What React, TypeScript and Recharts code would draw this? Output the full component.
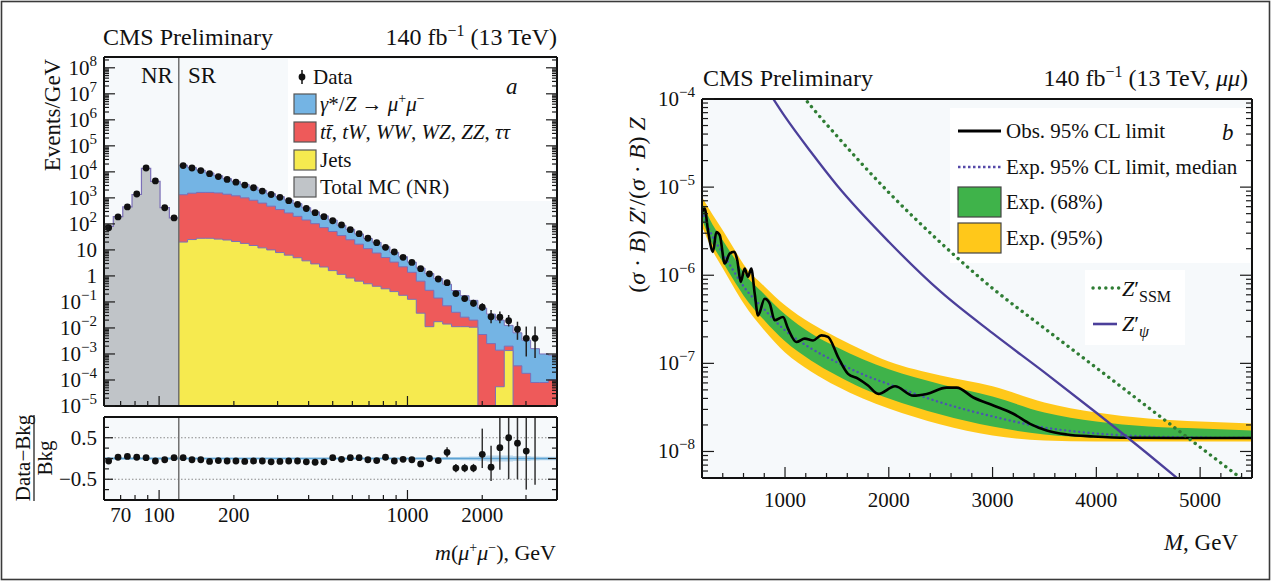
import React from "react";
import { ComposedChart, Area, Line, Scatter, XAxis, YAxis, ReferenceLine, ErrorBar } from "recharts";

const FONT = "'Liberation Serif', 'Times New Roman', serif";
const FRAME = { stroke: "#111", strokeWidth: 2 };
const PLOT_BG = "#f6f9fb";
const BLUE = "#74b4e4";
const RED = "#ee5a5a";
const YELLOW = "#f6ea4f";
const GRAY = "#c0c4c8";
const OUTLINE = "#7b6fb8";
const BAND95 = "#ffc81a";
const BAND68 = "#3fb34a";
const PSI = "#4b3f9a";
const SSM = "#2f7d34";
const MEDIAN = "#4b55b0";

// ---------- panel a: m(mu mu) spectrum ----------
const nrEdges = [60, 65.4, 71.4, 77.8, 84.9, 92.5, 100.9, 110.0, 120];
const nrData = [71, 186, 447, 1410, 14100, 4470, 417, 170];
const nrMC = [80, 190, 450, 1350, 13500, 4300, 420, 170];

const srEdges = [
  120, 130.2, 141.3, 153.3, 166.3, 180.4, 195.7, 212.4, 230.4, 250, 271.2, 294.3, 319.3, 346.4, 375.9,
  407.8, 442.5, 480.1, 520.9, 565.1, 613.2, 665.3, 721.8, 783.1, 849.7, 921.9, 1000, 1085, 1177, 1277,
  1386, 1504, 1632, 1770, 1921, 2084, 2261, 2453, 2662, 2888, 3133, 3399, 3688, 4000,
];
// stacked tops: total (DY on top), jets + ttbar etc, jets
const srTotal = [
  18200, 14800, 11700, 9100, 7100, 5500, 4300, 3300, 2600, 1950, 1450, 1120, 830, 600, 420, 290, 204, 141,
  89, 62, 41, 27.5, 19.5, 13.2, 8.1, 5.5, 3.4, 2.0, 1.23, 0.79, 0.48, 0.275, 0.174, 0.115, 0.058, 0.034,
  0.02, 0.0126, 0.0065, 0.0034, 0.0016, 0.001, 0.0009,
];
const srTop = [
  1320, 1510, 1620, 1620, 1550, 1380, 1200, 1000, 810, 630, 480, 355, 263, 195, 141, 102, 72, 51, 35.5,
  24.5, 16.6, 11.2, 7.6, 5.1, 3.4, 2.24, 1.38, 0.63, 0.28, 0.141, 0.071, 0.04, 0.026, 0.02, 0.0056,
  0.0025, 0.0014, 0.002, 0.00035, 0.00018, 0.00008, 0.00008, 0.0001,
];
const srJets = [
  20, 25, 28, 28, 26, 24, 21, 17.8, 14.8, 12, 10, 7.9, 6.3, 5, 3.8, 2.9, 2.2, 1.6, 1.15, 0.83, 0.63, 0.5,
  0.4, 0.32, 0.25, 0.18, 0.126, 0.037, 0.0112, 0.0174, 0.0141, 0.0112, 0.0112, 0.0107, 0, 0, 0.000055,
  0.00135, 0, 0, 0, 0, 0,
];
const srData = [
  17400, 14100, 11200, 8500, 6600, 5100, 4000, 3100, 2450, 1820, 1350, 1050, 780, 560, 390, 270, 190, 132,
  91, 60, 42, 28, 19, 12.6, 8.3, 5.2, 3.3, 1.9, 1.2, 0.76, 0.55, 0.21, 0.135, 0.089, 0.063, 0.027, 0.026,
  0.019, 0.0089, 0.004, 0.004,
];
const dataErrStart = 31;
const srDataErrTail = [
  [0.043, 0.054], [0.028, 0.035], [0.023, 0.031], [0.018, 0.026], [0.012, 0.022],
  [0.011, 0.017], [0.0076, 0.0125], [0.0054, 0.0085], [0.0032, 0.0073], [0.0033, 0.0073],
];

const nrRatio = [-0.06, 0.03, 0.05, 0.03, 0.02, -0.06, -0.03, 0.02];
const srRatio = [
  0.02, -0.03, -0.03, -0.07, -0.05, -0.06, -0.06, -0.07, -0.06, -0.06, -0.08, -0.07, -0.06, -0.06, -0.08,
  -0.09, -0.08, 0.02, -0.02, 0.02, 0.02, -0.03, -0.05, 0.03, -0.06, -0.02, -0.03, -0.13, 0.0, -0.05,
  0.15, -0.23, -0.23, -0.23, 0.1, -0.21, 0.26, 0.5, 0.37, 0.18, 1.0,
];
const ratioErrStart = 30;
const srRatioErrTail = [
  [0.12, 0.12], [0.1, 0.1], [0.1, 0.1], [0.1, 0.1], [0.33, 0.62], [0.33, 0.52],
  [0.53, 0.74], [1.0, 0.5], [0.87, 0.63], [0.93, 0.82], [1.63, 0],
];
const ratioOffScaleBin = 40; // marker above the panel, only its bar shows
const nrBkgUnc = [0.03, 0.03, 0.03, 0.03, 0.03, 0.03, 0.03, 0.03];
const srBkgUnc = [
  0.025, 0.025, 0.025, 0.025, 0.025, 0.025, 0.025, 0.025, 0.025, 0.025, 0.025, 0.025, 0.025, 0.025, 0.025,
  0.025, 0.025, 0.025, 0.025, 0.025, 0.025, 0.025, 0.025, 0.025, 0.025, 0.025, 0.025, 0.03, 0.03, 0.03,
  0.035, 0.035, 0.04, 0.05, 0.06, 0.07, 0.07, 0.07, 0.06, 0.06, 0.05, 0.04, 0.04,
];

const massTicks = [70, 80, 90, 100, 200, 300, 400, 500, 600, 700, 800, 900, 1000, 2000, 3000];
const massLabels = [70, 100, 200, 1000, 2000];
const ratioTicks = [-0.75, -0.5, -0.25, 0, 0.25, 0.5, 0.75];

// ---------- panel b: limits ----------
const bandMass = [200, 300, 400, 500, 600, 800, 1000, 1250, 1500, 1750, 2000, 2500, 3000, 3500, 4000, 4500, 5000, 5500];
const exp95Hi = [7.7e-6, 4.93e-6, 3.24e-6, 2.08e-6, 1.33e-6, 7.5e-7, 4.56e-7, 2.85e-7, 1.97e-7, 1.41e-7, 1.05e-7, 7.3e-8, 5.5e-8, 3.6e-8, 2.77e-8, 2.37e-8, 2.19e-8, 2.08e-8];
const exp68Hi = [6.6e-6, 3.8e-6, 2.5e-6, 1.64e-6, 1.08e-6, 6.1e-7, 3.6e-7, 2.19e-7, 1.52e-7, 1.11e-7, 8.55e-8, 5.8e-8, 4.2e-8, 2.77e-8, 2.19e-8, 1.92e-8, 1.82e-8, 1.73e-8];
const expMedian = [5.3e-6, 2.77e-6, 1.78e-6, 1.14e-6, 7.5e-7, 4.1e-7, 2.37e-7, 1.48e-7, 1.03e-7, 7.5e-8, 5.8e-8, 3.6e-8, 2.5e-8, 1.87e-8, 1.6e-8, 1.48e-8, 1.44e-8, 1.43e-8];
const exp68Lo = [4.3e-6, 2.25e-6, 1.41e-6, 9.0e-7, 5.9e-7, 3.08e-7, 1.78e-7, 1.08e-7, 7.3e-8, 5.2e-8, 4.0e-8, 2.63e-8, 1.92e-8, 1.56e-8, 1.44e-8, 1.41e-8, 1.41e-8, 1.41e-8];
const exp95Lo = [3.6e-6, 1.92e-6, 1.2e-6, 7.5e-7, 4.8e-7, 2.37e-7, 1.33e-7, 8.1e-8, 5.5e-8, 4.0e-8, 3.08e-8, 2.03e-8, 1.52e-8, 1.33e-8, 1.3e-8, 1.3e-8, 1.3e-8, 1.3e-8];

const obsMass = [
  200, 226, 258, 306, 338, 371, 419, 467, 508, 540, 573, 611, 643, 675, 708, 740, 804, 852, 900, 981, 1029,
  1109, 1190, 1270, 1350, 1414, 1511, 1607, 1703, 1800, 1900, 2060, 2236, 2365, 2558, 2654, 2815, 3008,
  3200, 3361, 3522, 3715, 3970, 4300, 5500,
];
const obsLimit = [
  5.2e-6, 5.7e-6, 3.2e-6, 1.84e-6, 3.1e-6, 2.85e-6, 1.36e-6, 1.76e-6, 1.84e-6, 1.48e-6, 8.4e-7, 1.19e-6,
  9.6e-7, 1.19e-6, 6.2e-7, 3.5e-7, 5.4e-7, 4.8e-7, 3.08e-7, 3.36e-7, 2.48e-7, 1.75e-7, 1.91e-7, 1.82e-7,
  2.08e-7, 2.0e-7, 1.18e-7, 7.6e-8, 6.7e-8, 5.6e-8, 4.5e-8, 5.5e-8, 4.3e-8, 4.5e-8, 5.3e-8, 5.3e-8, 4.1e-8,
  3.33e-8, 2.68e-8, 2.06e-8, 1.73e-8, 1.56e-8, 1.48e-8, 1.43e-8, 1.42e-8,
];
const psiMass = [850, 1000, 1250, 1500, 2000, 2500, 3000, 3500, 4000, 4500, 4900];
const psiXsec = [1.17e-4, 6.3e-5, 2.5e-5, 1.05e-5, 2.4e-6, 6.5e-7, 2.2e-7, 7.9e-8, 2.75e-8, 9.3e-9, 3.8e-9];
const ssmMass = [1100, 1250, 1500, 2000, 2500, 3000, 3500, 4000, 4500, 5000, 5500];
const ssmXsec = [1.38e-4, 8.3e-5, 3.8e-5, 8.7e-6, 2.34e-6, 7.1e-7, 2.5e-7, 8.9e-8, 3.16e-8, 1.12e-8, 4.0e-9];

const mTicks = [400, 600, 800, 1000, 1200, 1400, 1600, 1800, 2000, 2200, 2400, 2600, 2800, 3000, 3200, 3400, 3600, 3800, 4000, 4200, 4400, 4600, 4800, 5000, 5200, 5400];

// ---------- tables ----------
const center = (edges: number[], i: number) => Math.sqrt(edges[i] * edges[i + 1]);
const floorZero = (v: number) => (v > 0 ? v : 1e-9);

const mainRows = [
  ...nrMC.map((v, i) => ({ x: nrEdges[i], nr: v })),
  ...srEdges.map((x, i) => {
    const j = Math.min(i, srTotal.length - 1);
    return { x, nr: i === 0 ? nrMC[nrMC.length - 1] : undefined, total: srTotal[j], top: srTop[j], jets: floorZero(srJets[j]) };
  }),
];
const mainPts = [
  ...nrData.map((y, i) => ({ x: center(nrEdges, i), y, err: [0, 0] })),
  ...srData.map((y, i) => ({ x: center(srEdges, i), y, err: i >= dataErrStart ? srDataErrTail[i - dataErrStart] : [0, 0] })),
];
const allEdges = [...nrEdges.slice(0, -1), ...srEdges];
const allUnc = [...nrBkgUnc, ...srBkgUnc];
const ratioRows = allEdges.map((x, i) => {
  const u = allUnc[Math.min(i, allUnc.length - 1)];
  return { x, band: [-u, u] };
});
const ratioPts = [
  ...nrRatio.map((y, i) => ({ x: center(nrEdges, i), y, err: [0, 0], hide: false })),
  ...srRatio.map((y, i) => ({
    x: center(srEdges, i),
    y,
    err: i >= ratioErrStart ? srRatioErrTail[i - ratioErrStart] : [0, 0],
    hide: i === ratioOffScaleBin,
  })),
];

const bandRows = bandMass.map((m, i) => ({ m, b95: [exp95Lo[i], exp95Hi[i]], b68: [exp68Lo[i], exp68Hi[i]] }));
const pick = (ms: number[], vs: number[], m: number) => {
  const k = ms.indexOf(m);
  return k >= 0 ? vs[k] : undefined;
};
const allMass = Array.from(new Set([...bandMass, ...obsMass, ...psiMass, ...ssmMass])).sort((a, b) => a - b);
const lineRows = allMass.map((m) => ({
  m,
  median: pick(bandMass, expMedian, m),
  obs: pick(obsMass, obsLimit, m),
  psi: pick(psiMass, psiXsec, m),
  ssm: pick(ssmMass, ssmXsec, m),
}));

// ---------- ticks ----------
const decadeTicks = (lo: number, hi: number) => {
  const out: number[] = [];
  for (let n = Math.floor(Math.log10(lo)); n <= Math.ceil(Math.log10(hi)); n++)
    for (let k = 1; k <= 9; k++) {
      const v = k * Math.pow(10, n);
      if (v >= lo * 0.999 && v <= hi * 1.001) out.push(v);
    }
  return out;
};
const isDecade = (v: number) => Math.abs(Math.log10(v) - Math.round(Math.log10(v))) < 1e-6;
const minus = (n: number) => (n < 0 ? "\u2212" + -n : String(n));
const powLabel = (v: number, plain: boolean) => {
  if (!isDecade(v)) return null;
  const n = Math.round(Math.log10(v));
  if (plain && n === 0) return "1";
  if (plain && n === 1) return "10";
  return (
    <>
      10<tspan dy={-9} fontSize={15}>{minus(n)}</tspan>
    </>
  );
};

type Side = "left" | "right" | "top" | "bottom";
const makeTick =
  (side: Side, major: (v: number) => boolean, lens: [number, number], label?: (v: number) => React.ReactNode, dy = 0) =>
  (p: any) => {
    const { x, y, payload } = p;
    const v = payload.value;
    const L = major(v) ? lens[0] : lens[1];
    let x2 = x;
    let y2 = y;
    if (side === "left") x2 = x + L;
    else if (side === "right") x2 = x - L;
    else if (side === "top") y2 = y + L;
    else y2 = y - L;
    const lab = label ? label(v) : null;
    return (
      <g>
        <line x1={x} y1={y} x2={x2} y2={y2} stroke="#1a1a1a" strokeWidth={1.2} />
        {lab != null &&
          (side === "left" ? (
            <text x={x - 7} y={y + 7} textAnchor="end" fontFamily={FONT} fontSize={21} fill="#111">
              {lab}
            </text>
          ) : (
            <text x={x} y={y + dy} textAnchor="middle" fontFamily={FONT} fontSize={21} fill="#111">
              {lab}
            </text>
          ))}
      </g>
    );
  };

const massMajor = (v: number) => v === 100 || v === 1000;
const massLabel = (v: number) => (massLabels.includes(v) ? String(v) : null);
const ratioMajor = (v: number) => Math.abs(v) === 0.5 || v === 0;
const ratioLabel = (v: number) => (v === 0.5 ? "0.5" : v === -0.5 ? "\u22120.5" : null);
const mMajor = (v: number) => v % 1000 === 0;
const mLabel = (v: number) => (v % 1000 === 0 ? String(v) : null);

const eventTicks = decadeTicks(1e-5, 2.6e8);
const limitTicks = decadeTicks(5e-9, 1e-4);

const dot = (p: any) =>
  p.payload && p.payload.hide ? <g /> : <circle cx={p.cx} cy={p.cy} r={3.4} fill="#111" />;

const axisCommon = { tickSize: 0, tickMargin: 0, tickLine: false, interval: 0 as const, allowDataOverflow: true };

const It = ({ children }: { children: React.ReactNode }) => <tspan fontStyle="italic">{children}</tspan>;

export default function App() {
  // axes on the far sides are 1px thick, margins reduced to keep the plot boxes in place
  const mainMargin = { top: 16, right: 22, bottom: 13, left: 44 };
  const ratioMargin = { top: 11, right: 22, bottom: 74, left: 44 };
  const bandMargin = { top: 39, right: 20, bottom: 42, left: 2 };
  const rMargin = { top: 38, right: 19, bottom: 41, left: 2 };
  return (
    <div style={{ position: "absolute", left: 0, top: 0, width: 1272, height: 583, background: "#fff", overflow: "hidden" }}>
      {/* plot backgrounds */}
      <div style={{ position: "absolute", left: 104, top: 57, width: 453, height: 349, background: PLOT_BG }} />
      <div style={{ position: "absolute", left: 288, top: 59, width: 266, height: 142, background: "#fff" }} />
      <div style={{ position: "absolute", left: 104, top: 417, width: 453, height: 83, background: PLOT_BG }} />
      <div style={{ position: "absolute", left: 702, top: 99, width: 550, height: 379, background: PLOT_BG }} />
      <div style={{ position: "absolute", left: 950, top: 108, width: 300, height: 155, background: "#fff" }} />
      <div style={{ position: "absolute", left: 1085, top: 270, width: 100, height: 75, background: "#fff" }} />

      {/* panel a, main */}
      <div style={{ position: "absolute", left: 0, top: 40 }}>
        <ComposedChart width={580} height={380} data={mainRows} margin={mainMargin}>
          <XAxis dataKey="x" type="number" scale="log" domain={[60, 4000]} ticks={massTicks} height={1} axisLine={FRAME}
            tick={makeTick("bottom", massMajor, [10, 5])} {...axisCommon} />
          <XAxis xAxisId="top" orientation="top" type="number" scale="log" domain={[60, 4000]} ticks={massTicks} height={1}
            axisLine={FRAME} tick={makeTick("top", massMajor, [10, 5])} {...axisCommon} />
          <YAxis type="number" scale="log" domain={[1e-5, 2.6e8]} ticks={eventTicks} width={60} axisLine={FRAME}
            tick={makeTick("left", isDecade, [11, 5], (v) => powLabel(v, true))} {...axisCommon} />
          <YAxis yAxisId="right" orientation="right" type="number" scale="log" domain={[1e-5, 2.6e8]} ticks={eventTicks}
            width={1} axisLine={FRAME} tick={makeTick("right", isDecade, [11, 5])} {...axisCommon} />
          <Area dataKey="total" type="stepAfter" baseValue={1e-5} fill={BLUE} fillOpacity={1} stroke={OUTLINE}
            strokeWidth={1} dot={false} activeDot={false} isAnimationActive={false} />
          <Area dataKey="top" type="stepAfter" baseValue={1e-5} fill={RED} fillOpacity={1} stroke={OUTLINE}
            strokeWidth={1} dot={false} activeDot={false} isAnimationActive={false} />
          <Area dataKey="jets" type="stepAfter" baseValue={1e-5} fill={YELLOW} fillOpacity={1} stroke={OUTLINE}
            strokeWidth={1} dot={false} activeDot={false} isAnimationActive={false} />
          <Area dataKey="nr" type="stepAfter" baseValue={1e-5} fill={GRAY} fillOpacity={1} stroke={OUTLINE}
            strokeWidth={1.2} dot={false} activeDot={false} isAnimationActive={false} />
          <ReferenceLine x={120} stroke="#707070" strokeWidth={1.5} />
          <Scatter data={mainPts} dataKey="y" shape={dot} isAnimationActive={false}>
            <ErrorBar dataKey="err" direction="y" width={0} stroke="#222" strokeWidth={1.5} isAnimationActive={false} />
          </Scatter>
        </ComposedChart>
      </div>

      {/* panel a, ratio */}
      <div style={{ position: "absolute", left: 0, top: 405 }}>
        <ComposedChart width={580} height={170} data={ratioRows} margin={ratioMargin}>
          <XAxis dataKey="x" type="number" scale="log" domain={[60, 4000]} ticks={massTicks} height={1} axisLine={FRAME}
            tick={makeTick("bottom", massMajor, [10, 5], massLabel, 22)} {...axisCommon} />
          <XAxis xAxisId="top" orientation="top" type="number" scale="log" domain={[60, 4000]} ticks={massTicks} height={1}
            axisLine={FRAME} tick={makeTick("top", massMajor, [10, 5])} {...axisCommon} />
          <YAxis type="number" domain={[-1, 1]} ticks={ratioTicks} width={60} axisLine={FRAME}
            tick={makeTick("left", ratioMajor, [9, 5], ratioLabel)} {...axisCommon} />
          <YAxis yAxisId="right" orientation="right" type="number" domain={[-1, 1]} ticks={ratioTicks} width={1}
            axisLine={FRAME} tick={makeTick("right", ratioMajor, [9, 5])} {...axisCommon} />
          <ReferenceLine y={0.5} stroke="#8a8a8a" strokeDasharray="1.5 2" strokeWidth={1} />
          <ReferenceLine y={-0.5} stroke="#8a8a8a" strokeDasharray="1.5 2" strokeWidth={1} />
          <Area dataKey="band" type="stepAfter" fill="#b9d8ee" fillOpacity={1} stroke="none" dot={false}
            activeDot={false} isAnimationActive={false} />
          <ReferenceLine y={0} stroke="#5ea3d3" strokeWidth={1.5} />
          <ReferenceLine x={120} stroke="#707070" strokeWidth={1.5} />
          <Scatter data={ratioPts} dataKey="y" shape={dot} isAnimationActive={false}>
            <ErrorBar dataKey="err" direction="y" width={0} stroke="#333" strokeWidth={1.5} isAnimationActive={false} />
          </Scatter>
        </ComposedChart>
      </div>

      {/* panel b, expected bands */}
      <div style={{ position: "absolute", left: 640, top: 60 }}>
        <ComposedChart width={632} height={460} data={bandRows} margin={bandMargin}>
          <XAxis dataKey="m" type="number" domain={[200, 5500]} allowDataOverflow height={0} tick={false} tickLine={false} axisLine={false} />
          <YAxis type="number" scale="log" domain={[5e-9, 1e-4]} allowDataOverflow width={60} tick={false} tickLine={false} axisLine={false} />
          <Area dataKey="b95" type="monotone" fill={BAND95} fillOpacity={1} stroke="none" dot={false} activeDot={false} isAnimationActive={false} />
          <Area dataKey="b68" type="monotone" fill={BAND68} fillOpacity={1} stroke="none" dot={false} activeDot={false} isAnimationActive={false} />
        </ComposedChart>
      </div>

      {/* panel b, lines and frame */}
      <div style={{ position: "absolute", left: 640, top: 60 }}>
        <ComposedChart width={632} height={460} data={lineRows} margin={rMargin}>
          <XAxis dataKey="m" type="number" domain={[200, 5500]} ticks={mTicks} height={1} axisLine={FRAME}
            tick={makeTick("bottom", mMajor, [11, 5], mLabel, 29)} {...axisCommon} />
          <XAxis xAxisId="top" orientation="top" type="number" domain={[200, 5500]} ticks={mTicks} height={1}
            axisLine={FRAME} tick={makeTick("top", mMajor, [11, 5])} {...axisCommon} />
          <YAxis type="number" scale="log" domain={[5e-9, 1e-4]} ticks={limitTicks} width={60} axisLine={FRAME}
            tick={makeTick("left", isDecade, [12, 6], (v) => powLabel(v, false))} {...axisCommon} />
          <YAxis yAxisId="right" orientation="right" type="number" scale="log" domain={[5e-9, 1e-4]} ticks={limitTicks}
            width={1} axisLine={FRAME} tick={makeTick("right", isDecade, [12, 6])} {...axisCommon} />
          <Line dataKey="median" type="monotone" stroke={MEDIAN} strokeWidth={2.4} strokeDasharray="0.1 4.6"
            strokeLinecap="round" dot={false} activeDot={false} connectNulls isAnimationActive={false} />
          <Line dataKey="obs" type="monotone" stroke="#000" strokeWidth={2.6} dot={false} activeDot={false}
            connectNulls isAnimationActive={false} />
          <Line dataKey="psi" type="monotone" stroke={PSI} strokeWidth={2.3} dot={false} activeDot={false}
            connectNulls isAnimationActive={false} />
          <Line dataKey="ssm" type="monotone" stroke={SSM} strokeWidth={3.4} strokeDasharray="0.1 6.3"
            strokeLinecap="round" dot={false} activeDot={false} connectNulls isAnimationActive={false} />
        </ComposedChart>
      </div>

      {/* texts and legends */}
      <svg width={1272} height={583} style={{ position: "absolute", left: 0, top: 0, pointerEvents: "none" }}
        fontFamily={FONT} fill="#111">
        <rect x={1.5} y={1.5} width={1268} height={578} fill="none" stroke="#3a3a3a" strokeWidth={1.6} />

        {/* panel a titles */}
        <text x={103} y={45} fontSize={24}>CMS Preliminary</text>
        <text x={557} y={45} fontSize={24} textAnchor="end">
          140 fb<tspan dy={-9} fontSize={16}>{"\u22121"}</tspan><tspan dy={9}> (13 TeV)</tspan>
        </text>
        <text x={141} y={83} fontSize={23}>NR</text>
        <text x={188} y={83} fontSize={23}>SR</text>
        <text x={506} y={94} fontSize={23} fontStyle="italic">a</text>

        {/* panel a legend */}
        <line x1={302} y1={70} x2={302} y2={84} stroke="#111" strokeWidth={1.5} />
        <circle cx={302} cy={77} r={3.4} fill="#111" />
        <text x={313} y={84} fontSize={21}>Data</text>
        <rect x={294} y={94} width={22} height={20} fill={BLUE} stroke="#555" strokeWidth={1.2} />
        <text x={320} y={111} fontSize={21}>
          <It>{"\u03b3"}</It>*/<It>Z</It> {"\u2192"} <It>{"\u03bc"}</It>
          <tspan dy={-8} fontSize={14}>+</tspan>
          <tspan dy={8} fontStyle="italic">{"\u03bc"}</tspan>
          <tspan dy={-8} fontSize={14}>{"\u2212"}</tspan>
        </text>
        <rect x={294} y={122} width={22} height={20} fill={RED} stroke="#555" strokeWidth={1.2} />
        <text x={320} y={139} fontSize={21}>
          <It>{"tt\u0304"}</It>, <It>tW</It>, <It>WW</It>, <It>WZ</It>, <It>ZZ</It>, <It>{"\u03c4\u03c4"}</It>
        </text>
        <rect x={294} y={150} width={22} height={20} fill={YELLOW} stroke="#555" strokeWidth={1.2} />
        <text x={320} y={167} fontSize={21}>Jets</text>
        <rect x={294} y={177} width={22} height={20} fill={GRAY} stroke="#555" strokeWidth={1.2} />
        <text x={320} y={194} fontSize={21}>Total MC (NR)</text>

        {/* panel a axis titles */}
        <text transform="translate(60,115) rotate(-90)" textAnchor="middle" fontSize={23}>Events/GeV</text>
        <g transform="translate(34,458) rotate(-90)">
          <text x={0} y={-4} textAnchor="middle" fontSize={21}>Data{"\u2212"}Bkg</text>
          <line x1={-43} y1={0} x2={43} y2={0} stroke="#111" strokeWidth={1.2} />
          <text x={0} y={18} textAnchor="middle" fontSize={21}>Bkg</text>
        </g>
        <text x={556} y={560} textAnchor="end" fontSize={22}>
          <It>m</It>(<It>{"\u03bc"}</It><tspan dy={-8} fontSize={14}>+</tspan>
          <tspan dy={8} fontStyle="italic">{"\u03bc"}</tspan><tspan dy={-8} fontSize={14}>{"\u2212"}</tspan>
          <tspan dy={8}>), GeV</tspan>
        </text>

        {/* panel b titles */}
        <text x={703} y={86} fontSize={24}>CMS Preliminary</text>
        <text x={1248} y={86} fontSize={24} textAnchor="end">
          140 fb<tspan dy={-9} fontSize={16}>{"\u22121"}</tspan><tspan dy={9}> (13 TeV, </tspan>
          <It>{"\u03bc\u03bc"}</It>)
        </text>
        <text x={1222} y={140} fontSize={23} fontStyle="italic">b</text>

        {/* panel b legend */}
        <line x1={958} y1={131} x2={1001} y2={131} stroke="#000" strokeWidth={3} />
        <text x={1006} y={138} fontSize={21}>Obs. 95% CL limit</text>
        <line x1={958} y1={167} x2={1001} y2={167} stroke="#5548a8" strokeWidth={2.6} strokeDasharray="2.5 2.5" />
        <text x={1006} y={174} fontSize={21}>Exp. 95% CL limit, median</text>
        <rect x={958} y={187} width={43} height={30} fill={BAND68} stroke="#444" strokeWidth={1.2} />
        <text x={1006} y={209} fontSize={21}>Exp. (68%)</text>
        <rect x={958} y={223} width={43} height={30} fill={BAND95} stroke="#444" strokeWidth={1.2} />
        <text x={1006} y={245} fontSize={21}>Exp. (95%)</text>
        <line x1={1093} y1={288} x2={1119} y2={288} stroke={SSM} strokeWidth={3.4} strokeDasharray="0.1 6.3" strokeLinecap="round" />
        <text x={1122} y={296} fontSize={22}>
          <It>Z</It>{"\u2032"}<tspan dy={6} fontSize={16}>SSM</tspan>
        </text>
        <line x1={1093} y1={324} x2={1117} y2={324} stroke={PSI} strokeWidth={2.6} />
        <text x={1122} y={331} fontSize={22}>
          <It>Z</It>{"\u2032"}<tspan dy={6} fontSize={16} fontStyle="italic">{"\u03c8"}</tspan>
        </text>

        {/* panel b axis titles */}
        <text transform="translate(645,205) rotate(-90)" textAnchor="middle" fontSize={24}>
          (<It>{"\u03c3"}</It> {"\u00b7"} <It>B</It>) <It>Z</It>{"\u2032"}/(<It>{"\u03c3"}</It> {"\u00b7"} <It>B</It>) <It>Z</It>
        </text>
        <text x={1238} y={550} textAnchor="end" fontSize={23}>
          <It>M</It>, GeV
        </text>
      </svg>
    </div>
  );
}
